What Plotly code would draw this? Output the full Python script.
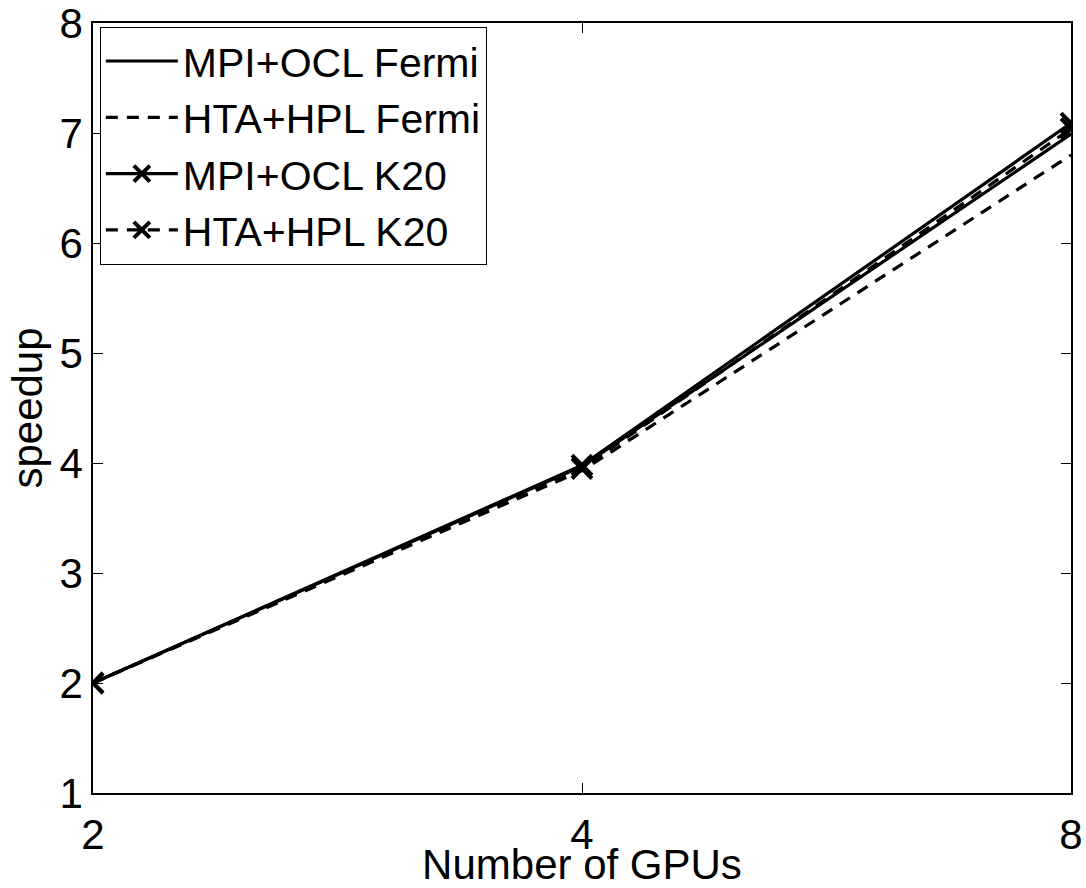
import plotly.graph_objects as go

gpus = [2, 4, 8]
mpi_ocl_fermi = [2.0, 3.97, 6.99]
hta_hpl_fermi = [2.0, 3.93, 6.80]
mpi_ocl_k20 = [2.0, 3.98, 7.09]
hta_hpl_k20 = [2.0, 3.95, 7.04]

y_ticks = [1, 2, 3, 4, 5, 6, 7, 8]
x_ticks = [2, 4, 8]

FONT = "Liberation Sans, Arial, Helvetica, sans-serif"
LW = 3.2

fig = go.Figure()
fig.add_trace(go.Scatter(x=gpus, y=mpi_ocl_fermi, mode="lines", name="MPI+OCL Fermi",
                         line=dict(color="black", width=LW, dash="solid")))
fig.add_trace(go.Scatter(x=gpus, y=hta_hpl_fermi, mode="lines", name="HTA+HPL Fermi",
                         line=dict(color="black", width=LW, dash="12px,9px")))
fig.add_trace(go.Scatter(x=gpus, y=mpi_ocl_k20, mode="lines+markers", name="MPI+OCL K20",
                         line=dict(color="black", width=LW, dash="solid"),
                         marker=dict(symbol="x-thin", size=20, color="black",
                                     line=dict(color="black", width=4))))
fig.add_trace(go.Scatter(x=gpus, y=hta_hpl_k20, mode="lines+markers", name="HTA+HPL K20",
                         line=dict(color="black", width=LW, dash="12px,9px"),
                         marker=dict(symbol="x-thin", size=20, color="black",
                                     line=dict(color="black", width=4))))

fig.update_layout(
    width=1086, height=888,
    margin=dict(l=93, r=15, t=23, b=95),
    paper_bgcolor="white", plot_bgcolor="white",
    font=dict(family=FONT, size=42, color="black"),
    showlegend=True,
    legend=dict(x=0.007, y=0.995, xanchor="left", yanchor="top",
                bgcolor="white", bordercolor="black", borderwidth=1,
                font=dict(family=FONT, size=41, color="black"),
                itemwidth=72, tracegroupgap=0),
    xaxis=dict(type="log", range=[0.30103, 0.90309], tickvals=x_ticks,
               ticktext=[str(v) for v in x_ticks], automargin=False,
               ticklabeloverflow="allow",
               showgrid=False, zeroline=False, showline=True, linecolor="black",
               linewidth=1.5, mirror="ticks", ticks="inside", ticklen=10,
               tickcolor="black", tickwidth=1, ticklabelstandoff=4,
               title=dict(text="Number of GPUs", standoff=0,
                          font=dict(family=FONT, size=42))),
    yaxis=dict(range=[1, 8], tickvals=y_ticks,
               ticktext=[str(v) for v in y_ticks], automargin=False,
               ticklabeloverflow="allow",
               showgrid=False, zeroline=False, showline=True, linecolor="black",
               linewidth=1.5, mirror="ticks", ticks="inside", ticklen=10,
               tickcolor="black", tickwidth=1,
               title=dict(text="speedup", standoff=4,
                          font=dict(family=FONT, size=42))),
)

fig.write_html("out.html")
